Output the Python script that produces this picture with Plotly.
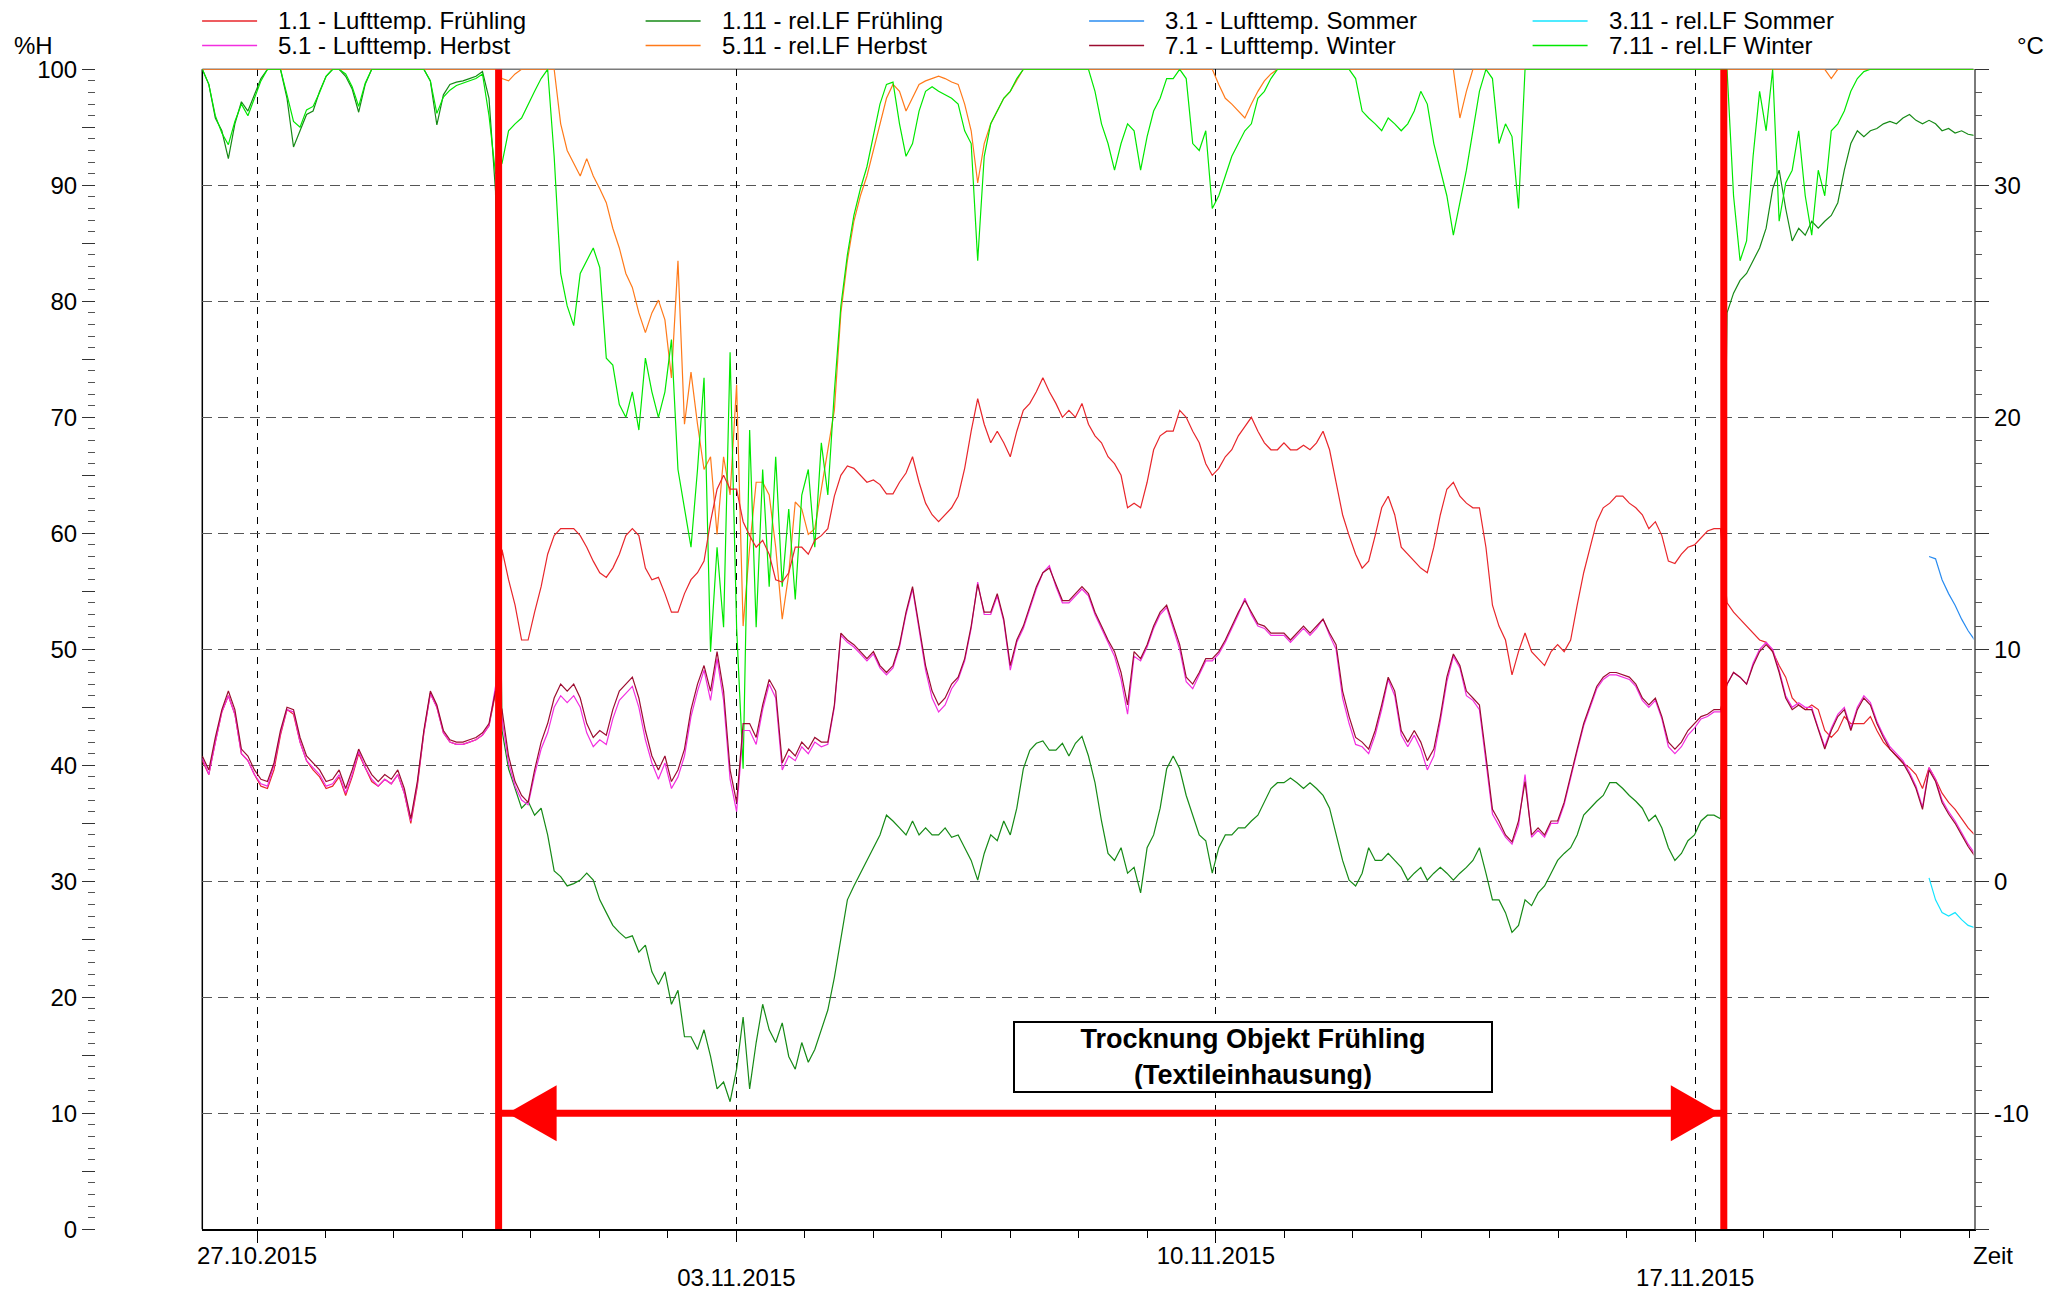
import pandas as pd
import plotly.graph_objects as go

# ---------------------------------------------------------------------------
# Logger data: sampled every STEP_MIN minutes starting at START
# ---------------------------------------------------------------------------
START = "2015-10-26 04:50"
STEP_MIN = 137
SOMMER_START = "2015-11-20 09:55"

# Lufttemperatur [°C]
lufttemp_fruehling = [
    5.2, 4.6, 6.0, 7.3, 8.0, 7.2, 5.5, 5.2, 4.6, 4.1,
    4.0, 4.8, 6.3, 7.4, 7.2, 6.0, 5.2, 4.8, 4.5, 4.0,
    4.1, 4.5, 3.7, 4.5, 5.5, 4.9, 4.3, 4.1, 4.4, 4.2,
    4.6, 3.8, 2.5, 4.1, 6.4, 8.1, 7.5, 6.4, 6.0, 5.9,
    5.9, 6.0, 6.1, 6.3, 6.7, 8.1, 14.3, 13.0, 11.9, 10.4,
    10.4, 11.6, 12.7, 14.1, 14.9, 15.2, 15.2, 15.2, 14.9, 14.4,
    13.8, 13.3, 13.1, 13.5, 14.1, 14.9, 15.2, 14.9, 13.5, 13.0,
    13.1, 12.4, 11.6, 11.6, 12.4, 13.0, 13.3, 13.8, 15.5, 16.9,
    17.5, 16.9, 16.9, 15.5, 14.9, 14.4, 14.7, 14.1, 13.0, 12.9,
    13.3, 14.4, 14.4, 14.1, 14.7, 14.9, 15.2, 16.6, 17.5, 17.9,
    17.8, 17.5, 17.2, 17.3, 17.1, 16.7, 16.7, 17.2, 17.6, 18.3,
    17.2, 16.3, 15.8, 15.5, 15.8, 16.1, 16.6, 17.8, 19.4, 20.8,
    19.7, 18.9, 19.4, 18.9, 18.3, 19.4, 20.3, 20.6, 21.1, 21.7,
    21.1, 20.6, 20.0, 20.3, 20.0, 20.6, 19.7, 19.2, 18.9, 18.3,
    18.0, 17.5, 16.1, 16.3, 16.1, 17.2, 18.6, 19.2, 19.4, 19.4,
    20.3, 20.0, 19.4, 18.9, 18.0, 17.5, 17.8, 18.3, 18.6, 19.2,
    19.6, 20.0, 19.4, 18.9, 18.6, 18.6, 18.9, 18.6, 18.6, 18.8,
    18.6, 18.9, 19.4, 18.6, 17.2, 15.8, 14.9, 14.1, 13.5, 13.8,
    14.9, 16.1, 16.6, 15.8, 14.4, 14.1, 13.8, 13.5, 13.3, 14.4,
    15.8, 16.9, 17.2, 16.6, 16.3, 16.1, 16.1, 14.4, 11.9, 11.0,
    10.4, 8.9, 9.9, 10.7, 9.9, 9.6, 9.3, 9.9, 10.2, 9.9,
    10.4, 11.9, 13.3, 14.4, 15.5, 16.1, 16.3, 16.6, 16.6, 16.3,
    16.1, 15.8, 15.2, 15.5, 14.9, 13.8, 13.7, 14.1, 14.4, 14.5,
    14.8, 15.1, 15.2, 15.2, 12.0, 11.6, 11.3, 11.0, 10.7, 10.4,
    10.3, 9.9, 9.3, 8.8, 7.9, 7.6, 7.4, 7.6, 7.4, 6.5,
    6.2, 6.5, 7.1, 6.8, 6.8, 6.8, 7.1, 6.5, 6.0, 5.7,
    5.4, 5.1, 4.9, 4.6, 4.0, 4.9, 4.4, 3.8, 3.4, 3.1,
    2.7, 2.3, 2.0,
]

lufttemp_herbst = [
    5.3, 4.6, 6.0, 7.3, 8.0, 7.2, 5.5, 5.2, 4.6, 4.2,
    4.1, 5.0, 6.4, 7.4, 7.3, 6.0, 5.2, 4.9, 4.6, 4.1,
    4.2, 4.6, 3.8, 4.6, 5.6, 4.9, 4.4, 4.1, 4.4, 4.2,
    4.6, 3.8, 2.6, 4.2, 6.4, 8.1, 7.5, 6.4, 6.0, 5.9,
    5.9, 6.0, 6.1, 6.3, 6.7, 8.4, 7.0, 5.1, 4.1, 3.5,
    3.3, 4.6, 5.7, 6.4, 7.5, 8.0, 7.7, 8.0, 7.5, 6.4,
    5.8, 6.1, 5.9, 7.0, 7.8, 8.1, 8.4, 7.5, 6.1, 5.1,
    4.4, 5.1, 4.0, 4.5, 5.4, 7.1, 8.2, 9.1, 7.8, 9.6,
    7.8, 4.4, 3.0, 6.5, 6.5, 5.9, 7.4, 8.5, 7.9, 4.8,
    5.4, 5.2, 5.8, 5.5, 6.0, 5.8, 5.9, 7.5, 10.6, 10.3,
    10.1, 9.8, 9.5, 9.8, 9.2, 8.9, 9.2, 10.1, 11.5, 12.6,
    10.9, 9.1, 7.9, 7.3, 7.6, 8.3, 8.7, 9.5, 10.9, 12.9,
    11.5, 11.5, 12.3, 11.2, 9.1, 10.3, 10.9, 11.8, 12.6, 13.3,
    13.6, 12.7, 12.0, 12.0, 12.3, 12.6, 12.3, 11.5, 10.9, 10.3,
    9.7, 8.7, 7.2, 9.7, 9.5, 10.1, 10.9, 11.5, 11.8, 10.9,
    10.0, 8.6, 8.3, 8.9, 9.5, 9.5, 9.8, 10.3, 10.9, 11.5,
    12.2, 11.5, 11.0, 10.9, 10.6, 10.6, 10.6, 10.3, 10.6, 10.9,
    10.6, 10.9, 11.3, 10.6, 10.0, 7.9, 6.8, 5.9, 5.8, 5.5,
    6.3, 7.4, 8.7, 8.0, 6.3, 5.8, 6.3, 5.7, 4.8, 5.4,
    6.9, 8.6, 9.7, 9.2, 8.0, 7.8, 7.4, 5.2, 2.9, 2.4,
    1.9, 1.6, 2.4, 4.6, 1.9, 2.2, 1.9, 2.5, 2.5, 3.3,
    4.5, 5.6, 6.7, 7.5, 8.3, 8.7, 8.9, 8.9, 8.8, 8.7,
    8.4, 7.8, 7.5, 7.8, 7.0, 5.8, 5.5, 5.8, 6.3, 6.6,
    7.0, 7.1, 7.3, 7.3, 8.5, 9.0, 8.8, 8.5, 9.4, 10.0,
    10.3, 10.0, 9.1, 8.0, 7.5, 7.7, 7.5, 7.5, 6.6, 5.8,
    6.6, 7.2, 7.5, 6.6, 7.5, 8.0, 7.7, 6.9, 6.3, 5.8,
    5.5, 5.2, 4.7, 4.1, 3.2, 4.9, 4.4, 3.5, 3.0, 2.6,
    2.1, 1.6, 1.2,
]

lufttemp_winter = [
    5.4, 4.8, 6.2, 7.4, 8.2, 7.4, 5.7, 5.4, 4.8, 4.4,
    4.3, 5.1, 6.5, 7.5, 7.4, 6.2, 5.4, 5.1, 4.8, 4.3,
    4.4, 4.8, 4.0, 4.8, 5.7, 5.1, 4.6, 4.3, 4.6, 4.4,
    4.8, 4.0, 2.7, 4.3, 6.5, 8.2, 7.6, 6.5, 6.1, 6.0,
    6.0, 6.1, 6.2, 6.4, 6.8, 8.2, 7.4, 5.4, 4.3, 3.7,
    3.4, 4.8, 6.0, 6.8, 7.9, 8.5, 8.2, 8.5, 7.9, 6.8,
    6.2, 6.5, 6.3, 7.4, 8.2, 8.5, 8.8, 7.9, 6.5, 5.4,
    4.8, 5.4, 4.3, 4.8, 5.7, 7.4, 8.5, 9.3, 8.2, 9.9,
    8.2, 4.8, 3.4, 6.8, 6.8, 6.2, 7.6, 8.7, 8.2, 5.1,
    5.7, 5.4, 6.0, 5.7, 6.2, 6.0, 6.0, 7.6, 10.7, 10.4,
    10.2, 9.9, 9.6, 9.9, 9.3, 9.0, 9.3, 10.2, 11.6, 12.7,
    11.0, 9.3, 8.2, 7.6, 7.9, 8.5, 8.8, 9.6, 11.0, 12.8,
    11.6, 11.6, 12.4, 11.3, 9.3, 10.4, 11.0, 11.9, 12.7, 13.3,
    13.5, 12.8, 12.1, 12.1, 12.4, 12.7, 12.4, 11.6, 11.0, 10.4,
    9.9, 9.0, 7.6, 9.9, 9.6, 10.2, 11.0, 11.6, 11.9, 11.0,
    10.2, 8.8, 8.5, 9.0, 9.6, 9.6, 9.9, 10.4, 11.0, 11.6,
    12.1, 11.6, 11.1, 11.0, 10.7, 10.7, 10.7, 10.4, 10.7, 11.0,
    10.7, 11.0, 11.3, 10.7, 10.2, 8.2, 7.1, 6.2, 6.0, 5.7,
    6.5, 7.6, 8.8, 8.2, 6.5, 6.0, 6.5, 6.0, 5.2, 5.7,
    7.1, 8.8, 9.8, 9.3, 8.2, 7.9, 7.6, 5.4, 3.1, 2.6,
    2.0, 1.7, 2.6, 4.3, 2.0, 2.3, 2.0, 2.6, 2.6, 3.4,
    4.6, 5.7, 6.8, 7.6, 8.4, 8.8, 9.0, 9.0, 8.9, 8.8,
    8.5, 7.9, 7.6, 7.9, 7.1, 6.0, 5.7, 6.0, 6.5, 6.8,
    7.1, 7.2, 7.4, 7.4, 8.5, 9.0, 8.8, 8.5, 9.3, 9.9,
    10.2, 9.9, 9.0, 7.9, 7.4, 7.6, 7.4, 7.4, 6.5, 5.7,
    6.5, 7.1, 7.4, 6.5, 7.4, 7.9, 7.6, 6.8, 6.2, 5.7,
    5.4, 5.1, 4.6, 4.0, 3.1, 4.8, 4.3, 3.4, 2.9, 2.5,
    2.0, 1.5, 1.1,
]

lufttemp_sommer = [14.0, 13.9, 13.0, 12.4, 11.9, 11.3, 10.8, 10.4]

# relative Luftfeuchte [%H]
rel_lf_fruehling = [
    100, 98.7, 95.8, 94.7, 92.3, 95.3, 97.2, 96.4, 97.8, 99.2,
    100, 100, 100, 97.5, 93.3, 94.7, 96.1, 96.4, 98.1, 99.4,
    100, 100, 99.4, 98.3, 96.3, 98.7, 100, 100, 100, 100,
    100, 100, 100, 100, 100, 99.0, 95.2, 97.8, 98.7, 98.9,
    99.0, 99.2, 99.4, 99.8, 97.5, 89.5, 43.0, 39.7, 38.0, 36.3,
    36.9, 35.7, 36.3, 34.0, 30.9, 30.4, 29.6, 29.8, 30.1, 30.7,
    30.1, 28.4, 27.3, 26.2, 25.6, 25.1, 25.3, 23.9, 24.5, 22.2,
    21.1, 22.2, 19.4, 20.6, 16.6, 16.6, 15.5, 17.2, 14.9, 12.1,
    12.7, 11.0, 13.8, 18.3, 12.1, 16.1, 19.4, 17.2, 16.1, 17.8,
    14.9, 13.8, 16.1, 14.4, 15.5, 17.2, 18.9, 21.7, 25.1, 28.4,
    29.6, 30.7, 31.8, 32.9, 34.0, 35.7, 35.2, 34.6, 34.0, 35.2,
    34.0, 34.6, 34.0, 34.0, 34.6, 33.8, 34.0, 32.9, 31.8, 30.1,
    32.4, 34.0, 33.5, 35.2, 34.0, 36.3, 39.7, 41.3, 41.9, 42.1,
    41.3, 41.3, 41.9, 40.8, 41.9, 42.5, 40.8, 38.5, 35.2, 32.4,
    31.8, 32.9, 30.7, 31.2, 29.0, 32.9, 34.0, 36.3, 39.7, 40.8,
    39.7, 37.4, 35.7, 34.0, 33.5, 30.7, 32.9, 34.0, 34.0, 34.6,
    34.6, 35.2, 35.7, 36.9, 38.0, 38.5, 38.5, 38.9, 38.5, 38.0,
    38.5, 38.0, 37.4, 36.3, 34.0, 31.8, 30.1, 29.6, 30.7, 32.9,
    31.8, 31.8, 32.4, 31.8, 31.2, 30.1, 30.7, 31.2, 30.1, 30.7,
    31.2, 30.7, 30.1, 30.7, 31.2, 31.8, 32.9, 30.7, 28.4, 28.4,
    27.3, 25.6, 26.2, 28.4, 27.9, 29.0, 29.6, 30.7, 31.8, 32.4,
    32.9, 34.0, 35.7, 36.3, 36.9, 37.4, 38.5, 38.5, 38.0, 37.4,
    36.9, 36.3, 35.2, 35.7, 34.6, 32.9, 31.8, 32.4, 33.5, 34.0,
    35.2, 35.7, 35.7, 35.4, 79.0, 80.7, 81.8, 82.4, 83.5, 84.6,
    86.3, 89.7, 91.3, 88.0, 85.2, 86.3, 85.7, 86.9, 86.3, 86.9,
    87.4, 88.5, 91.3, 93.6, 94.7, 94.2, 94.7, 94.9, 95.3, 95.5,
    95.3, 95.8, 96.1, 95.6, 95.3, 95.6, 95.3, 94.7, 94.9, 94.5,
    94.7, 94.4, 94.3,
]

rel_lf_herbst = [
    100, 100, 100, 100, 100, 100, 100, 100, 100, 100,
    100, 100, 100, 100, 100, 100, 100, 100, 100, 100,
    100, 100, 100, 100, 100, 100, 100, 100, 100, 100,
    100, 100, 100, 100, 100, 100, 100, 100, 100, 100,
    100, 100, 100, 100, 100, 100, 99.2, 99.0, 99.6, 100,
    100, 100, 100, 100, 100, 95.3, 93.0, 91.9, 90.8, 92.3,
    90.8, 89.7, 88.5, 86.3, 84.6, 82.4, 81.2, 79.0, 77.3, 79.0,
    80.1, 78.4, 73.4, 83.5, 69.4, 73.9, 69.4, 65.5, 66.6, 59.9,
    66.6, 63.3, 72.8, 52.0, 58.8, 64.4, 64.4, 63.3, 58.8, 52.6,
    56.5, 62.7, 62.1, 59.9, 60.4, 63.8, 67.2, 70.6, 79.0, 83.5,
    86.9, 89.1, 90.8, 93.0, 95.3, 97.5, 98.7, 98.1, 96.4, 97.5,
    98.7, 99.0, 99.2, 99.4, 99.2, 98.9, 98.7, 97.0, 94.7, 90.2,
    93.6, 95.3, 96.4, 97.5, 98.1, 99.0, 100, 100, 100, 100,
    100, 100, 100, 100, 100, 100, 100, 100, 100, 100,
    100, 100, 100, 100, 100, 100, 100, 100, 100, 100,
    100, 100, 100, 100, 100, 100, 98.7, 97.5, 97.0, 96.4,
    95.8, 97.0, 98.1, 99.0, 99.6, 100, 100, 100, 100, 100,
    100, 100, 100, 100, 100, 100, 100, 100, 100, 100,
    100, 100, 100, 100, 100, 100, 100, 100, 100, 100,
    100, 100, 100, 95.8, 98.1, 100, 100, 100, 100, 100,
    100, 100, 100, 100, 100, 100, 100, 100, 100, 100,
    100, 100, 100, 100, 100, 100, 100, 100, 100, 100,
    100, 100, 100, 100, 100, 100, 100, 100, 100, 100,
    100, 100, 100, 100, 100, 100, 100, 100, 100, 100,
    100, 100, 100, 100, 100, 100, 100, 100, 100, 100,
    99.2, 100, 100, 100, 100, 100, 100, 100, 100, 100,
    100, 100, 100, 100, 100, 100, 100, 100, 100, 100,
    100, 100, 100,
]

rel_lf_winter = [
    100, 98.7, 96.0, 94.5, 93.5, 95.5, 97.0, 96.0, 97.5, 99.0,
    100, 100, 100, 97.8, 95.5, 95.0, 96.5, 96.8, 98.0, 99.4,
    100, 100, 99.6, 98.5, 96.8, 98.8, 100, 100, 100, 100,
    100, 100, 100, 100, 100, 99.0, 96.2, 97.6, 98.2, 98.6,
    98.8, 99.0, 99.2, 99.6, 96.0, 91.0, 91.9, 94.7, 95.3, 95.8,
    97.0, 98.1, 99.2, 100, 92.5, 82.4, 79.6, 77.9, 82.4, 83.5,
    84.6, 82.9, 75.1, 74.5, 71.1, 70.0, 72.2, 68.9, 75.1, 72.2,
    70.0, 72.2, 76.7, 65.5, 62.1, 58.8, 65.5, 73.4, 49.8, 58.8,
    51.9, 75.6, 51.9, 39.7, 68.9, 51.9, 65.5, 55.4, 66.6, 55.4,
    62.1, 54.3, 63.3, 65.5, 58.8, 67.8, 63.3, 72.2, 79.6, 84.0,
    87.4, 89.7, 91.6, 94.2, 97.0, 98.7, 98.9, 95.3, 92.5, 93.6,
    96.4, 98.1, 98.5, 98.1, 97.8, 97.5, 97.0, 94.7, 93.6, 83.5,
    92.5, 95.3, 96.4, 97.5, 98.1, 99.2, 100, 100, 100, 100,
    100, 100, 100, 100, 100, 100, 100, 98.1, 95.3, 93.6,
    91.3, 93.6, 95.3, 94.7, 91.3, 94.2, 96.4, 97.5, 99.2, 99.2,
    100, 99.2, 93.6, 93.0, 94.7, 88.0, 89.1, 90.8, 92.5, 93.6,
    94.7, 95.3, 97.5, 98.1, 99.2, 100, 100, 100, 100, 100,
    100, 100, 100, 100, 100, 100, 100, 99.2, 96.4, 95.8,
    95.3, 94.7, 95.8, 95.3, 94.7, 95.3, 96.4, 98.1, 97.0, 93.6,
    91.3, 89.1, 85.7, 88.5, 91.3, 94.7, 98.1, 100, 99.2, 93.6,
    95.3, 94.2, 88.0, 100, 100, 100, 100, 100, 100, 100,
    100, 100, 100, 100, 100, 100, 100, 100, 100, 100,
    100, 100, 100, 100, 100, 100, 100, 100, 100, 100,
    100, 100, 100, 100, 100, 89.1, 83.5, 85.2, 92.5, 98.1,
    94.7, 100, 86.9, 90.2, 91.3, 94.7, 89.1, 85.7, 91.3, 89.1,
    94.7, 95.3, 96.4, 98.1, 99.2, 99.8, 100, 100, 100, 100,
    100, 100, 100, 100, 100, 100, 100, 100, 100, 100,
    100, 100, 100,
]

rel_lf_sommer = [30.3, 28.4, 27.3, 27.0, 27.3, 26.7, 26.2, 26.0]

# Time axis
X_RANGE = ["2015-10-26 04:50", "2015-11-21 01:30"]
WEEK_TICKS_ROW1 = ["2015-10-27", "2015-11-10"]
WEEK_LABELS_ROW1 = ["27.10.2015", "10.11.2015"]
WEEK_TICKS_ROW2 = ["2015-11-03", "2015-11-17"]
WEEK_LABELS_ROW2 = ["03.11.2015", "17.11.2015"]

# Drying period of the spring object (textile enclosure)
TROCKNUNG_START = "2015-10-30 12:40"
TROCKNUNG_END = "2015-11-17 10:00"
ARROW_LEVEL = 10  # %H

# ---------------------------------------------------------------------------
W, H = 2045, 1292
FONT = "Liberation Sans, Arial, Helvetica, sans-serif"


def px_x(px):
    return px / W


def px_y(px):
    return 1 - px / H


def times(start, values):
    return pd.date_range(start, periods=len(values), freq=f"{STEP_MIN}min")


# (legend text, values, start, colour, axis)
SERIES = [
    ("1.1 - Lufttemp. Frühling", lufttemp_fruehling, START, "#e8262b", "y2"),
    ("1.11 - rel.LF Frühling", rel_lf_fruehling, START, "#168a16", "y"),
    ("3.1 - Lufttemp. Sommer", lufttemp_sommer, SOMMER_START, "#2a8cf0", "y2"),
    ("3.11 - rel.LF Sommer", rel_lf_sommer, SOMMER_START, "#14e4ff", "y"),
    ("5.1 - Lufttemp. Herbst", lufttemp_herbst, START, "#f22ee0", "y2"),
    ("5.11 - rel.LF Herbst", rel_lf_herbst, START, "#ff7a1a", "y"),
    ("7.1 - Lufttemp. Winter", lufttemp_winter, START, "#9c0c30", "y2"),
    ("7.11 - rel.LF Winter", rel_lf_winter, START, "#00e800", "y"),
]

fig = go.Figure()
for name, vals, start, color, axis in SERIES:
    fig.add_trace(go.Scatter(
        x=times(start, vals), y=vals, name=name, mode="lines",
        line=dict(color=color, width=1.2), yaxis=axis, showlegend=False,
        hoverinfo="skip",
    ))

# empty trace so the second (label row 2) time axis gets drawn
fig.add_trace(go.Scatter(x=X_RANGE, y=[None, None], xaxis="x2", yaxis="y",
                         mode="lines", showlegend=False, hoverinfo="skip"))

x_dom = [px_x(202.3), px_x(1973.5)]
y_dom = [px_y(1229.3), px_y(69.3)]

grid_week = dict(showgrid=True, gridcolor="black", gridwidth=1, griddash="7px,7px")

fig.update_layout(
    width=W, height=H,
    margin=dict(l=0, r=0, t=0, b=0),
    paper_bgcolor="white", plot_bgcolor="white",
    font=dict(family=FONT, size=24, color="black"),
    showlegend=False,
    xaxis=dict(
        type="date", domain=x_dom, range=X_RANGE, anchor="y",
        tickmode="array", tickvals=WEEK_TICKS_ROW1, ticktext=WEEK_LABELS_ROW1,
        ticks="outside", ticklen=12, tickwidth=1.3, tickcolor="black",
        ticklabelstandoff=-8,
        showline=True, linecolor="black", linewidth=1.5, zeroline=False,
        minor=dict(dtick=86400000, tick0="2015-10-27", ticks="outside",
                   ticklen=7, tickwidth=1.2, tickcolor="black", showgrid=False),
        automargin=False, fixedrange=True, **grid_week,
    ),
    xaxis2=dict(
        type="date", domain=x_dom, range=X_RANGE, overlaying="x", anchor="y",
        side="bottom",
        tickmode="array", tickvals=WEEK_TICKS_ROW2, ticktext=WEEK_LABELS_ROW2,
        ticks="outside", ticklen=12, tickwidth=1.3, tickcolor="black",
        ticklabelstandoff=15, showline=False, zeroline=False,
        automargin=False, fixedrange=True, **grid_week,
    ),
    yaxis=dict(
        domain=y_dom, range=[0, 100], anchor="free", position=px_x(95),
        side="left", tickmode="array",
        tickvals=list(range(0, 101, 5)),
        ticktext=[str(v) if v % 10 == 0 else "" for v in range(0, 101, 5)],
        ticks="outside", ticklen=13, tickwidth=1.3, tickcolor="#333333",
        minor=dict(dtick=1, ticks="outside", ticklen=7, tickwidth=1.2,
                   tickcolor="#555555", showgrid=False),
        showline=False, showgrid=False, zeroline=False,
        automargin=False, fixedrange=True,
    ),
    yaxis2=dict(
        overlaying="y", side="right", anchor="x", range=[-15, 35],
        tickmode="array", tickvals=list(range(-15, 36, 5)),
        ticktext=[str(v) if v % 10 == 0 else "" for v in range(-15, 36, 5)],
        ticks="outside", ticklen=14, tickwidth=1.3, tickcolor="#333333",
        minor=dict(dtick=1, ticks="outside", ticklen=7, tickwidth=1.2,
                   tickcolor="#555555", showgrid=False),
        showline=True, linecolor="#7a7a7a", linewidth=1.5,
        showgrid=True, gridcolor="#555555", gridwidth=1.3, griddash="10px,6px",
        zeroline=False, automargin=False, fixedrange=True,
    ),
)

shapes = [
    # frame: black left edge, grey top edge
    dict(type="line", xref="x domain", yref="y domain", x0=0, x1=0, y0=0, y1=1,
         line=dict(color="black", width=1.5), layer="below"),
    dict(type="line", xref="x domain", yref="y domain", x0=0, x1=1, y0=1, y1=1,
         line=dict(color="#7a7a7a", width=1.5), layer="below"),
    # start / end of drying period
    dict(type="line", xref="x", yref="y", x0=TROCKNUNG_START, x1=TROCKNUNG_START,
         y0=0, y1=100, line=dict(color="#ff0000", width=7)),
    dict(type="line", xref="x", yref="y", x0=TROCKNUNG_END, x1=TROCKNUNG_END,
         y0=0, y1=100, line=dict(color="#ff0000", width=7)),
    # double-headed arrow between them
    dict(type="line", xref="x", yref="y", x0=TROCKNUNG_START, x1=TROCKNUNG_END,
         y0=ARROW_LEVEL, y1=ARROW_LEVEL, line=dict(color="#ff0000", width=7)),
    dict(type="path", xref="x", yref="y", xsizemode="pixel", ysizemode="pixel",
         xanchor=TROCKNUNG_START, yanchor=ARROW_LEVEL,
         path="M 9,0 L 58,28 L 58,-28 Z", fillcolor="#ff0000",
         line=dict(width=0)),
    dict(type="path", xref="x", yref="y", xsizemode="pixel", ysizemode="pixel",
         xanchor=TROCKNUNG_END, yanchor=ARROW_LEVEL,
         path="M -4,0 L -53,28 L -53,-28 Z", fillcolor="#ff0000",
         line=dict(width=0)),
]

annotations = [
    dict(xref="paper", yref="paper", x=px_x(12), y=px_y(45.6), text="%H",
         showarrow=False, xanchor="left", yanchor="middle",
         font=dict(size=24)),
    dict(xref="paper", yref="paper", x=px_x(2015), y=px_y(45.6), text="°C",
         showarrow=False, xanchor="left", yanchor="middle",
         font=dict(size=24)),
    dict(xref="paper", yref="paper", x=px_x(1971), y=px_y(1255), text="Zeit",
         showarrow=False, xanchor="left", yanchor="middle",
         font=dict(size=24)),
    dict(xref="paper", yref="paper", x=px_x(1253), y=px_y(1057),
         text="<b>Trocknung Objekt Frühling<br>(Textileinhausung)</b>",
         showarrow=False, xanchor="center", yanchor="middle",
         font=dict(size=27, color="black"), align="center",
         bgcolor="white", bordercolor="black", borderwidth=2, borderpad=2,
         width=472, height=64),
]

# legend: 4 columns x 2 rows above the plot area
COL_X = [202.1, 645.6, 1089.1, 1532.6]
ROW_Y = [20.9, 45.6]
for i, (name, _vals, _start, color, _axis) in enumerate(SERIES):
    col, row = i % 4, i // 4
    x0 = COL_X[col]
    y = ROW_Y[row]
    shapes.append(dict(type="line", xref="paper", yref="paper",
                       x0=px_x(x0), x1=px_x(x0 + 55), y0=px_y(y), y1=px_y(y),
                       line=dict(color=color, width=1.5)))
    annotations.append(dict(xref="paper", yref="paper", x=px_x(x0 + 74),
                            y=px_y(y), text=name, showarrow=False,
                            xanchor="left", yanchor="middle",
                            font=dict(size=24, color="black")))

fig.update_layout(shapes=shapes, annotations=annotations)

fig.write_html("out.html")
